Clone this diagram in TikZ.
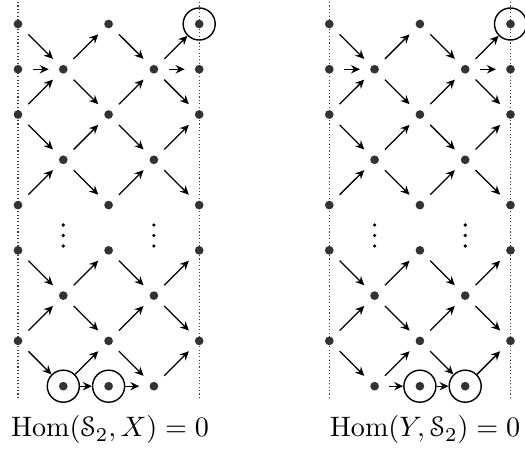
\documentclass[tikz,border=0pt]{standalone}
\usepackage[mathcal]{eucal}
\usetikzlibrary{arrows.meta}
\definecolor{dotgray}{HTML}{333333}
\tikzset{
  vx/.style={circle, inner sep=0pt, minimum size=10pt,
    path picture={\fill[dotgray] (path picture bounding box.center) circle (1.55pt);}},
  cx/.style={vx, draw, line width=0.5pt, minimum size=11.4pt},
  ar/.style={-{Stealth[length=3.2pt,width=3pt,inset=1.1pt]}, line width=0.45pt},
  rail/.style={line width=0.4pt, black!75, dash pattern=on 0.4pt off 0.8pt},
  smalldot/.style={circle, fill=black, inner sep=0pt, minimum size=1.3pt},
  lab/.style={anchor=base, inner sep=0pt}
}
\begin{document}
\begin{tikzpicture}[x=0.3556pt, y=-0.3556pt]
\useasboundingbox (0,0) rectangle (525,451);
\foreach \p/\ox in {L/18, R/329.3}{
  \begin{scope}[xshift=\ox*0.3556pt]
    % rails
    \coordinate (\p-rt0) at (0,2);
    \coordinate (\p-rb0) at (0,398);
    \coordinate (\p-rt4) at (181.2,2);
    \coordinate (\p-rb4) at (181.2,398);
    \draw[rail] (\p-rt0) -- (\p-rb0);
    \draw[rail] (\p-rt4) -- (\p-rb4);
    % vertices
    \foreach \r/\c in {0/0,0/2,1/0,1/1,1/3,1/4,2/0,2/2,2/4,3/1,3/3,4/0,4/2,4/4,
                       5/0,5/2,5/4,6/1,6/3,7/0,7/2,7/4}{
      \node[vx] (\p-\r-\c) at ({45.3*\c},{24+45.27*\r}) {};
    }
    \node[cx] (\p-0-4) at ({45.3*4},24) {};
    % vertical dots
    \foreach \c in {1,3}{
      \foreach \yy [count=\k] in {225,235.5,246}{
        \node[smalldot] (\p-vd-\c-\k) at ({45.3*\c},\yy) {};
      }
    }
  \end{scope}
}
% bottom rows
\begin{scope}[xshift=18*0.3556pt]
  \node[cx] (L-8-1) at (45.3,386.2) {};
  \node[cx] (L-8-2) at (90.6,386.2) {};
  \node[vx] (L-8-3) at (135.9,386.2) {};
\end{scope}
\begin{scope}[xshift=329.3*0.3556pt]
  \node[vx] (R-8-1) at (45.3,386.2) {};
  \node[cx] (R-8-2) at (90.6,386.2) {};
  \node[cx] (R-8-3) at (135.9,386.2) {};
\end{scope}
% arrows
\foreach \p in {L,R}{
  \foreach \ra/\ca/\rb/\cb in {
      0/0/1/1, 1/1/0/2, 0/2/1/3, 1/3/0/4,
      2/0/1/1, 1/1/2/2, 2/2/1/3, 1/3/2/4,
      2/0/3/1, 3/1/2/2, 2/2/3/3, 3/3/2/4,
      4/0/3/1, 3/1/4/2, 4/2/3/3, 3/3/4/4,
      5/0/6/1, 6/1/5/2, 5/2/6/3, 6/3/5/4,
      7/0/6/1, 6/1/7/2, 7/2/6/3, 6/3/7/4,
      7/0/8/1, 8/1/7/2, 7/2/8/3, 8/3/7/4,
      1/0/1/1, 1/3/1/4, 8/1/8/2, 8/2/8/3}{
    \draw[ar] (\p-\ra-\ca) -- (\p-\rb-\cb);
  }
}
% labels
\node[lab] (labL) at (110,437) {$\mathrm{Hom}(\mathcal{S}_2,X)=0$};
\node[lab] (labR) at (425,437) {$\mathrm{Hom}(Y,\mathcal{S}_2)=0$};
\end{tikzpicture}
\end{document}
